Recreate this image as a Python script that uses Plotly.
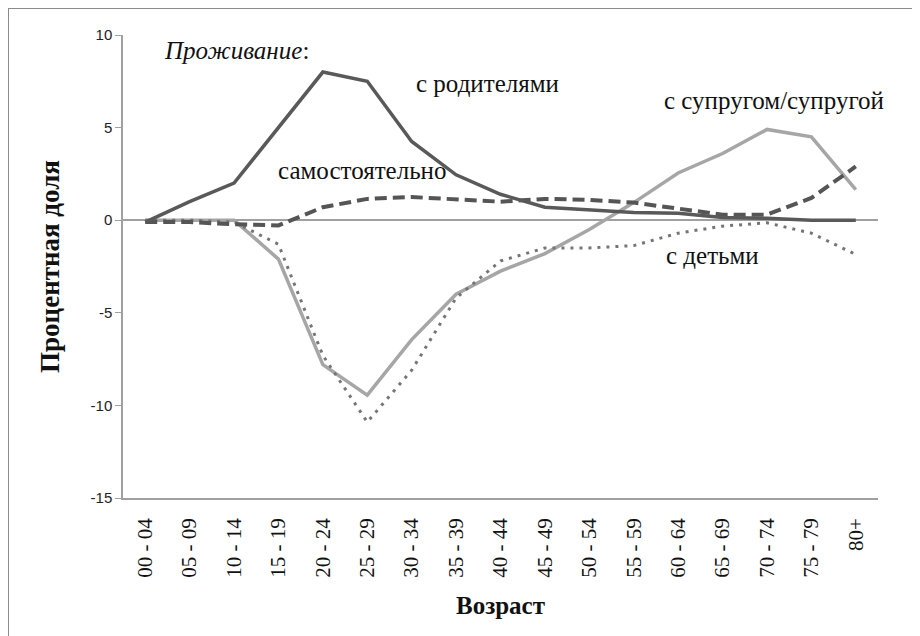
import plotly.graph_objects as go

age_groups = ["00 - 04", "05 - 09", "10 - 14", "15 - 19", "20 - 24", "25 - 29", "30 - 34",
              "35 - 39", "40 - 44", "45 - 49", "50 - 54", "55 - 59", "60 - 64", "65 - 69",
              "70 - 74", "75 - 79", "80+"]

with_parents = [-0.1, 1.0, 2.0, 5.0, 8.0, 7.5, 4.25, 2.45, 1.4, 0.7, 0.55, 0.42, 0.38, 0.15, 0.1, 0.0, 0.0]
alone = [-0.1, -0.1, -0.22, -0.28, 0.7, 1.15, 1.25, 1.15, 1.0, 1.15, 1.1, 0.95, 0.65, 0.3, 0.3, 1.2, 2.9]
with_spouse = [0.0, 0.0, 0.0, -2.1, -7.8, -9.45, -6.45, -4.0, -2.75, -1.8, -0.5, 0.95, 2.55, 3.6, 4.9, 4.5, 1.65]
with_children = [0.0, 0.0, -0.1, -1.3, -7.3, -10.9, -8.1, -4.2, -2.2, -1.5, -1.5, -1.37, -0.7, -0.32, -0.14, -0.7, -1.85]

y_ticks = [-15, -10, -5, 0, 5, 10]
y_tick_labels = ["-15", "-10", "-5", "0", "5", "10"]

fig = go.Figure()
fig.add_trace(go.Scatter(x=age_groups, y=with_spouse, mode="lines",
                         line=dict(color="#a6a6a6", width=3.5), name="с супругом/супругой"))
fig.add_trace(go.Scatter(x=age_groups, y=with_children, mode="lines",
                         line=dict(color="#757575", width=3, dash="3px,6px"), name="с детьми"))
fig.add_trace(go.Scatter(x=age_groups, y=alone, mode="lines",
                         line=dict(color="#555555", width=4, dash="12px,6px"), name="самостоятельно"))
fig.add_trace(go.Scatter(x=age_groups, y=with_parents, mode="lines",
                         line=dict(color="#595959", width=3.5), name="с родителями"))

serif = "Liberation Serif, Times New Roman, serif"

def ann(text, x, y):
    fig.add_annotation(text=text, xref="paper", yref="paper", x=x, y=y,
                       xanchor="left", yanchor="middle", showarrow=False,
                       font=dict(family=serif, size=25, color="#111111"))

ann("<i>Проживание</i>:", (163 - 124) / 755, (499 - 52) / 463)
ann("с родителями", (415 - 124) / 755, (499 - 85) / 463)
ann("самостоятельно", (277 - 124) / 755, (499 - 172) / 463)
ann("с супругом/супругой", (663 - 124) / 755, (499 - 101) / 463)
ann("с детьми", (665 - 124) / 755, (499 - 256) / 463)

# outer frame
fig.add_shape(type="rect", xref="paper", yref="paper",
              x0=(9 - 124) / 755, x1=(940 - 124) / 755,
              y0=(499 - 660) / 463, y1=(499 - 9) / 463,
              line=dict(color="#8c8c8c", width=2), fillcolor="rgba(0,0,0,0)", layer="below")

fig.update_layout(
    width=920, height=636,
    margin=dict(l=115, r=50, t=27, b=146),
    paper_bgcolor="white", plot_bgcolor="white",
    showlegend=False,
    xaxis=dict(
        type="category", tickangle=-90, showgrid=False, zeroline=False, automargin=False,
        showline=True, linecolor="#a0a0a0", linewidth=1.5,
        ticks="outside", ticklen=10, tickcolor="rgba(0,0,0,0)",
        tickfont=dict(family=serif, size=21, color="#111111"),
        title=dict(text="<b>Возраст</b>", font=dict(family=serif, size=25, color="#111111"),
                   standoff=20),
        range=[-0.5, len(age_groups) - 0.5],
    ),
    yaxis=dict(
        range=[-15, 10], tickvals=y_ticks, ticktext=y_tick_labels, showgrid=False, automargin=False,
        zeroline=True, zerolinecolor="#a0a0a0", zerolinewidth=1.5,
        showline=True, linecolor="#a0a0a0", linewidth=1.5,
        ticks="outside", ticklen=6, tickcolor="#a0a0a0",
        tickfont=dict(family="Liberation Sans, Arial, sans-serif", size=15, color="#222222"),
        title=dict(text="<b>Процентная доля</b>", font=dict(family=serif, size=27, color="#111111"),
                   standoff=23),
    ),
)

fig.write_html("out.html")
